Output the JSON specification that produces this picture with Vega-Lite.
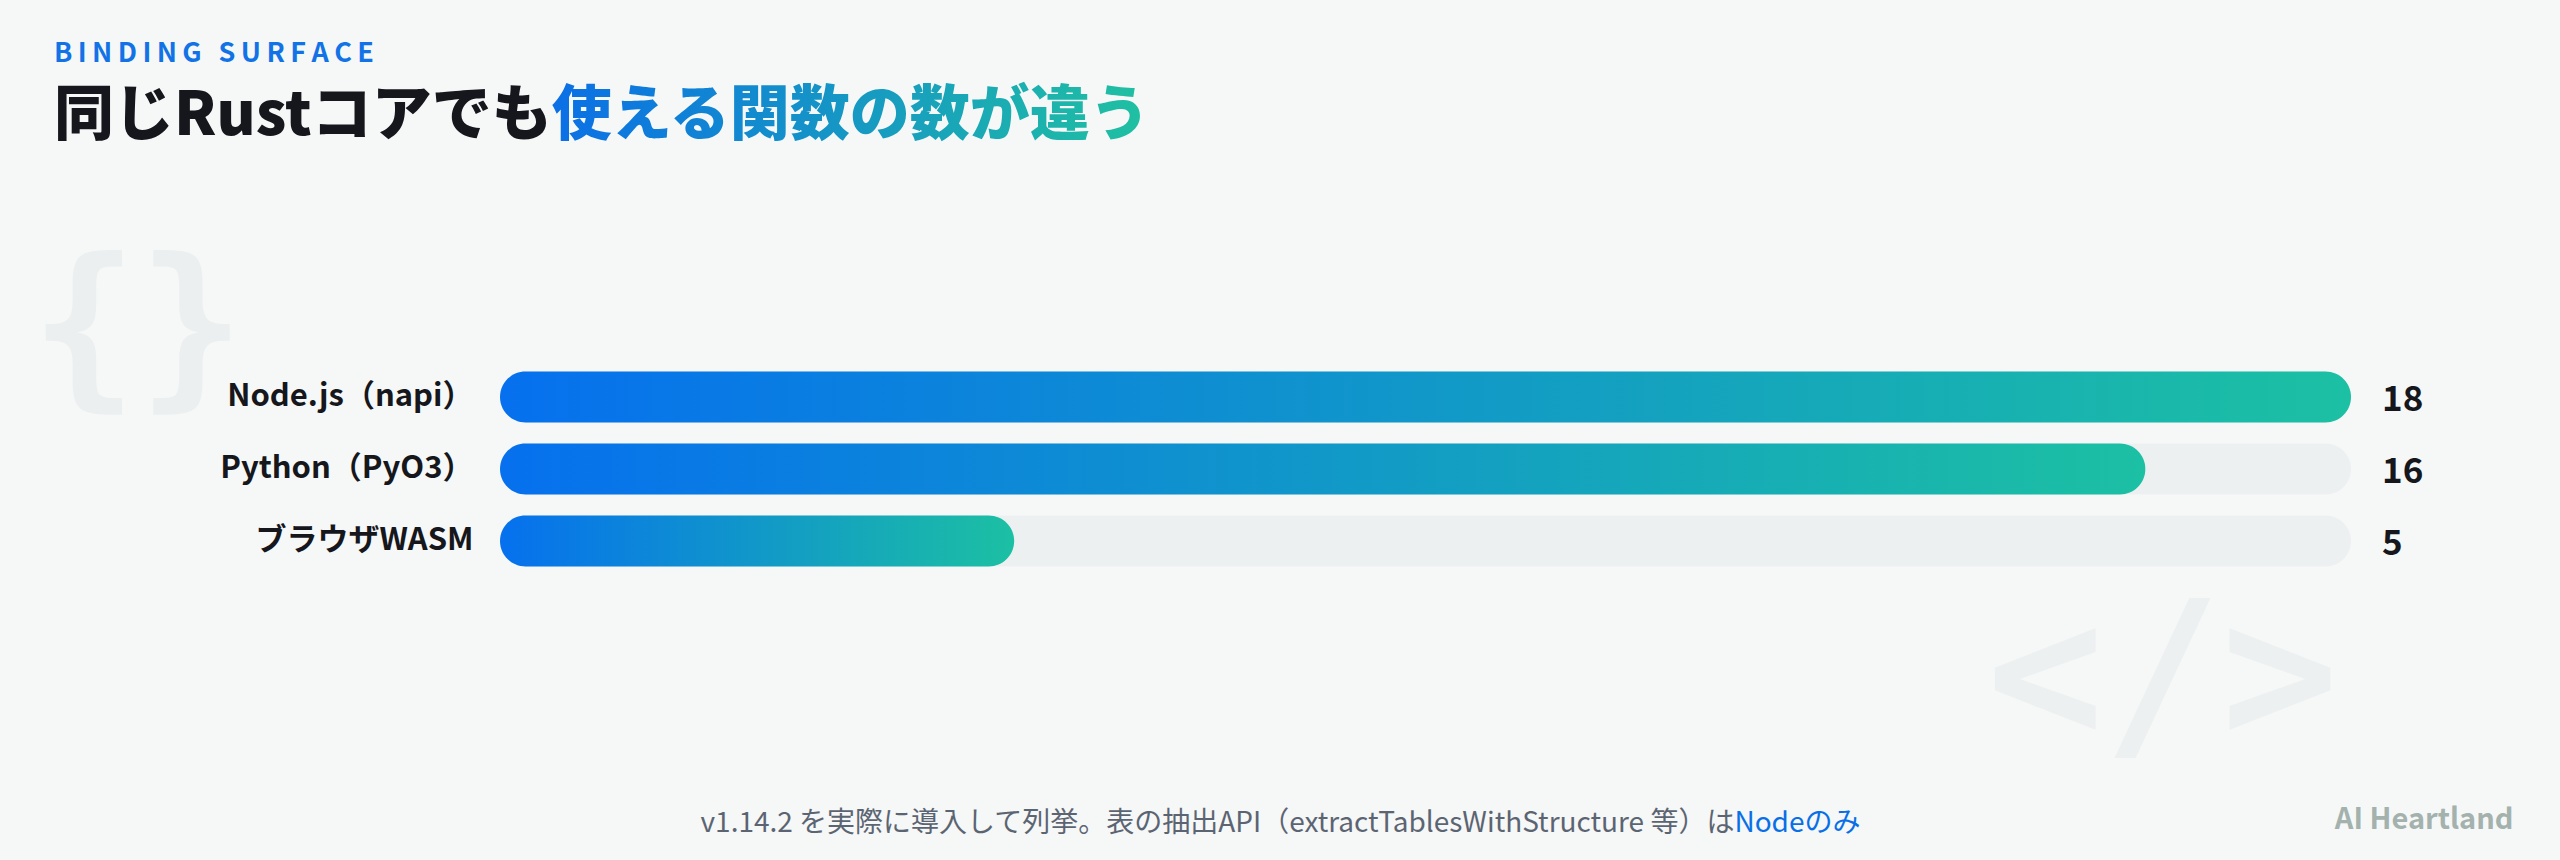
{
  "$schema": "https://vega.github.io/schema/vega-lite/v6.json",
  "autosize": {"type": "none"},
  "width": 1851,
  "height": 216,
  "padding": {"left": 500, "top": 361, "right": 209, "bottom": 283},
  "background": "#f6f8f8",
  "config": {
    "view": {"stroke": null},
    "font": "Noto Sans CJK JP",
    "axis": {"grid": false, "domain": false, "ticks": false}
  },
  "title": {
    "text": "B\u2009I\u2009N\u2009D\u2009I\u2009N\u2009G\u2009 \u2009S\u2009U\u2009R\u2009F\u2009A\u2009C\u2009E",
    "subtitle": "同じRustコアでも使える関数の数が違う",
    "anchor": "start",
    "frame": "group",
    "dx": -446,
    "offset": 95,
    "font": "Noto Sans CJK JP",
    "fontSize": 27,
    "fontWeight": 700,
    "color": "#1273e6",
    "subtitleFont": "Noto Sans CJK JP",
    "subtitleFontSize": 60,
    "subtitleFontWeight": 900,
    "subtitlePadding": 20,
    "subtitleColor": {"value": {"gradient": "linear", "x1": 0, "y1": 0, "x2": 1, "y2": 0, "stops": [
      {"offset": 0, "color": "#15171c"},
      {"offset": 0.453, "color": "#15171c"},
      {"offset": 0.4531, "color": "#0b6fe6"},
      {"offset": 1, "color": "#20c1a1"}
    ]}}
  },
  "data": {"values": [
    {"name": "Node.js（napi）", "value": 18},
    {"name": "Python（PyO3）", "value": 16},
    {"name": "ブラウザWASM", "value": 5}
  ]},
  "transform": [{"joinaggregate": [{"op": "max", "field": "value", "as": "maxv"}]}],
  "layer": [
    {
      "mark": {"type": "bar", "color": "#edf0f1", "cornerRadius": 25.5},
      "encoding": {
        "x": {
          "field": "maxv", "type": "quantitative", "stack": null,
          "scale": {"nice": false, "zero": true},
          "axis": {
            "orient": "bottom", "labels": false,
            "title": "v1.14.2 を実際に導入して列挙。表の抽出API（extractTablesWithStructure 等）はNodeのみ",
            "titleFont": "Noto Sans CJK JP", "titleFontSize": 28, "titleFontWeight": 400,
            "titleX": 780, "titleY": 254, "titleAlign": "center", "titleBaseline": "alphabetic",
            "titleColor": {"value": {"gradient": "linear", "x1": 0, "y1": 0, "x2": 1, "y2": 0, "stops": [
              {"offset": 0, "color": "#5b6472"},
              {"offset": 0.891, "color": "#5b6472"},
              {"offset": 0.8911, "color": "#0a6fe6"},
              {"offset": 1, "color": "#0a6fe6"}
            ]}}
          }
        },
        "y": {
          "field": "name", "type": "nominal", "sort": null,
          "scale": {"paddingInner": 0.29, "paddingOuter": 0.145},
          "axis": {
            "orient": "left", "labelFont": "Noto Sans CJK JP", "labelFontSize": 31, "labelFontWeight": 700,
            "labelColor": "#15171c", "labelPadding": 27, "labelLimit": 0,
            "title": "AI Heartland", "titleAngle": 0, "titleX": 2013, "titleY": 467,
            "titleAlign": "right", "titleBaseline": "alphabetic",
            "titleFont": "Noto Sans CJK JP", "titleFontSize": 29, "titleFontWeight": 700, "titleColor": "#a4b2ae"
          }
        }
      }
    },
    {
      "mark": {"type": "bar", "cornerRadius": 25.5, "color": {"gradient": "linear", "x1": 0, "y1": 0, "x2": 1, "y2": 0, "stops": [
        {"offset": 0, "color": "#0670ee"},
        {"offset": 1, "color": "#1cc0a3"}
      ]}},
      "encoding": {
        "x": {
          "field": "value", "type": "quantitative", "stack": null,
          "axis": {
            "orient": "top", "labels": false, "zindex": 0,
            "title": "</>", "titleFont": "DejaVu Sans Mono", "titleFontSize": 195, "titleFontWeight": 700,
            "titleColor": "#edf0f0", "titleX": 1662, "titleY": 378, "titleAlign": "center",
            "titleBaseline": "alphabetic", "titleAngle": 0
          }
        },
        "y": {
          "field": "name", "type": "nominal", "sort": null,
          "axis": {
            "orient": "right", "labels": false, "zindex": 0,
            "title": "{}", "titleFont": "DejaVu Sans Mono", "titleFontSize": 178, "titleFontWeight": 700,
            "titleColor": "#eceff0", "titleX": -2321, "titleY": 24, "titleAlign": "left",
            "titleBaseline": "alphabetic", "titleAngle": 0
          }
        }
      }
    },
    {
      "mark": {"type": "text", "align": "left", "baseline": "middle", "dx": 31, "dy": 3, "fontSize": 35, "fontWeight": 700, "color": "#15171c", "font": "Noto Sans CJK JP"},
      "encoding": {
        "x": {"field": "maxv", "type": "quantitative", "axis": null},
        "y": {"field": "name", "type": "nominal", "sort": null, "axis": null},
        "text": {"field": "value", "type": "quantitative"}
      }
    }
  ],
  "resolve": {"axis": {"x": "independent", "y": "independent"}}
}
